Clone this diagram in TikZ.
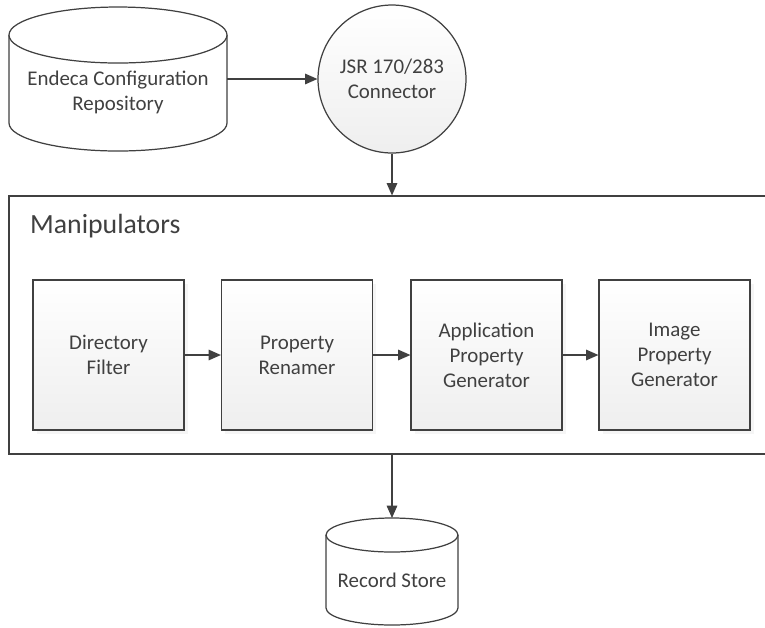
\documentclass[tikz,border=0pt]{standalone}
\usepackage{fontspec}
\setmainfont{Carlito}
\usetikzlibrary{arrows.meta}
\usetikzlibrary{shadows}
\definecolor{edge}{HTML}{404040}
\definecolor{ink}{HTML}{404040}

\begin{document}
\begin{tikzpicture}[x=0.02cm,y=0.02cm,
    link/.style={-{Triangle[length=7pt,width=6pt]},line width=0.7pt,edge},
    store/.style={draw=edge,fill=white,line width=0.7pt},
    label/.style={text=ink,align=center,font=\fontsize{11.9}{14.2}\selectfont},
    stage/.style={label,draw=edge,line width=0.7pt,top color=white,bottom color=gray!13,
        minimum width=3.02cm,minimum height=3.0cm,
        drop shadow={opacity=0.08,shadow xshift=2pt,shadow yshift=-2pt}}]
    \useasboundingbox (0,0) rectangle (765,-627);
    % Repository
    \filldraw[store] (9,-35) -- (9,-123) arc[start angle=180,end angle=360,x radius=109,y radius=28] -- (227,-35);
    \filldraw[store] (118,-35) ellipse [x radius=109,y radius=28];
    \node[label] (repo) at (118,-92) {Endeca Configuration\\Repository};
    \coordinate (repo-e) at (227,-79);
    % Connector
    \node[label,circle,draw=edge,line width=0.7pt,top color=white,bottom color=gray!13,
        minimum size=2.96cm,inner sep=0pt] (jsr) at (392,-79) {JSR 170/283\\Connector};
    \draw[link] (repo-e) to (jsr.west);
    % Manipulators
    \node[draw=edge,line width=0.7pt,minimum width=15.18cm,minimum height=5.16cm] (manip) at (388.5,-325) {};
    \node[anchor=base west,text=ink,font=\fontsize{15.8}{18}\selectfont] (maniplabel) at (24,-233) {Manipulators};
    \draw[link] (jsr.south) to (jsr.south |- manip.north);
    \node[stage] (dirfilter) at (108.5,-355) {Directory\\Filter};
    \node[stage] (renamer) at (297,-355) {Property\\Renamer};
    \node[stage] (appgen) at (486.5,-355) {Application\\Property\\Generator};
    \node[stage] (imggen) at (674.5,-355) {Image\\Property\\Generator};
    \draw[link] (dirfilter) to (renamer);
    \draw[link] (renamer) to (appgen);
    \draw[link] (appgen) to (imggen);
    % Record Store
    \filldraw[store] (326,-535) -- (326,-608) arc[start angle=180,end angle=360,x radius=66,y radius=17] -- (458,-535);
    \filldraw[store] (392,-535) ellipse [x radius=66,y radius=17];
    \node[label] (recstore) at (392,-580) {Record Store};
    \coordinate (recstore-top) at (392,-518);
    \draw[link] (jsr.south |- manip.south) to (recstore-top);
\end{tikzpicture}
\end{document}
